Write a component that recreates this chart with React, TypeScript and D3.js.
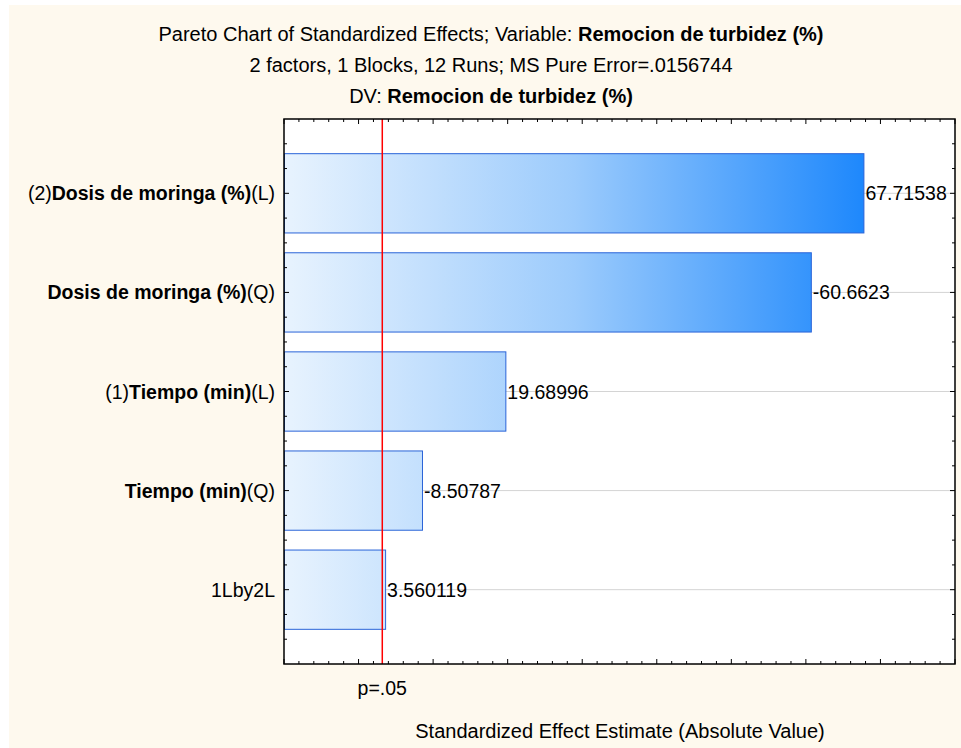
import React, { useRef, useEffect } from 'react';
import * as d3 from 'd3';

const prefixes = ['(2)', '', '(1)', '', '1Lby2L'];
const boldNames = ['Dosis de moringa (%)', 'Dosis de moringa (%)', 'Tiempo (min)', 'Tiempo (min)', ''];
const suffixes = ['(L)', '(Q)', '(L)', '(Q)', ''];
const effects = [67.71538, -60.6623, 19.68996, -8.50787, 3.560119];
const effectLabels = ['67.71538', '-60.6623', '19.68996', '-8.50787', '3.560119'];
const pCritical = 3.182446;

const titleLines = [
  { normal: 'Pareto Chart of Standardized Effects; Variable: ', bold: 'Remocion de turbidez (%)' },
  { normal: '2 factors, 1 Blocks, 12 Runs; MS Pure Error=.0156744', bold: '' },
  { normal: 'DV: ', bold: 'Remocion de turbidez (%)' },
];

const App: React.FC = () => {
  const svgRef = useRef<SVGSVGElement>(null);

  useEffect(() => {
    if (!svgRef.current) return;
    const svg = d3.select(svgRef.current);
    svg.selectAll('*').remove();

    const width = 961;
    const height = 748;
    const font = '"Liberation Sans", Arial, sans-serif';
    const fs = 19.5;
    const titleFs = 20;

    const left = 284, right = 955, top = 119, bottom = 664;
    const x = d3.scaleLinear().domain([-10, 80]).range([left, right]);
    const y = d3.scaleLinear().domain([0.25, 5.75]).range([top, bottom]);

    svg.attr('width', width).attr('height', height);

    const defs = svg.append('defs');
    const grad = defs.append('linearGradient')
      .attr('id', 'barGrad')
      .attr('gradientUnits', 'userSpaceOnUse')
      .attr('x1', left).attr('x2', x(67.71538))
      .attr('y1', 0).attr('y2', 0);
    grad.append('stop').attr('offset', '0%').attr('stop-color', '#e8f3fe');
    grad.append('stop').attr('offset', '50%').attr('stop-color', '#9ccbfc');
    grad.append('stop').attr('offset', '100%').attr('stop-color', '#1e88fc');

    svg.append('rect')
      .attr('x', 9).attr('y', 5)
      .attr('width', width - 9).attr('height', height - 5)
      .attr('fill', '#fef9ee');

    svg.append('rect')
      .attr('x', left).attr('y', top)
      .attr('width', right - left).attr('height', bottom - top)
      .attr('fill', '#ffffff');

    // title
    const title = svg.append('g')
      .attr('font-family', font)
      .attr('font-size', titleFs)
      .attr('fill', '#000');
    titleLines.forEach((line, i) => {
      const t = title.append('text')
        .attr('x', 491)
        .attr('y', 41 + i * 31)
        .attr('text-anchor', 'middle');
      t.append('tspan').text(line.normal);
      if (line.bold) t.append('tspan').attr('font-weight', 'bold').text(line.bold);
    });

    // gridlines
    svg.append('g')
      .selectAll('line')
      .data(effects)
      .enter().append('line')
      .attr('x1', left).attr('x2', right)
      .attr('y1', (d, i) => y(i + 1)).attr('y2', (d, i) => y(i + 1))
      .attr('stroke', '#d4d4d4')
      .attr('stroke-width', 1);

    // bars
    const barH = 0.8;
    svg.append('g')
      .selectAll('rect')
      .data(effects)
      .enter().append('rect')
      .attr('x', left + 0.5)
      .attr('y', (d, i) => y(i + 1 - barH / 2))
      .attr('width', d => x(Math.abs(d)) - left)
      .attr('height', y(1 + barH / 2) - y(1 - barH / 2))
      .attr('fill', 'url(#barGrad)')
      .attr('stroke', '#2a64d8')
      .attr('stroke-width', 1);

    // value labels
    svg.append('g')
      .selectAll('text')
      .data(effects)
      .enter().append('text')
      .attr('x', d => x(Math.abs(d)) + 2)
      .attr('y', (d, i) => y(i + 1))
      .attr('dy', '0.36em')
      .attr('font-family', font)
      .attr('font-size', fs)
      .text((d, i) => effectLabels[i]);

    // significance line
    svg.append('line')
      .attr('x1', x(pCritical)).attr('x2', x(pCritical))
      .attr('y1', top).attr('y2', bottom)
      .attr('stroke', '#ff0000')
      .attr('stroke-width', 1.5);

    // frame
    svg.append('rect')
      .attr('x', left).attr('y', top)
      .attr('width', right - left).attr('height', bottom - top)
      .attr('fill', 'none')
      .attr('stroke', '#000')
      .attr('stroke-width', 1.5);

    // ticks
    const ticks = svg.append('g').attr('stroke', '#000').attr('stroke-width', 1);
    d3.range(-10, 80.01, 2).forEach(v => {
      const len = v % 10 === 0 ? 5 : 3;
      ticks.append('line').attr('x1', x(v)).attr('x2', x(v)).attr('y1', bottom).attr('y2', bottom - len);
      ticks.append('line').attr('x1', x(v)).attr('x2', x(v)).attr('y1', top).attr('y2', top + len);
    });
    d3.range(0.5, 5.6, 0.25).forEach(v => {
      const len = Math.abs(v - Math.round(v)) < 1e-6 ? 5 : 3;
      ticks.append('line').attr('x1', left).attr('x2', left + len).attr('y1', y(v)).attr('y2', y(v));
      ticks.append('line').attr('x1', right).attr('x2', right - len).attr('y1', y(v)).attr('y2', y(v));
    });

    // category labels
    const labels = svg.append('g')
      .attr('font-family', font)
      .attr('font-size', fs);
    effects.forEach((d, i) => {
      const t = labels.append('text')
        .attr('x', 275)
        .attr('y', y(i + 1))
        .attr('dy', '0.36em')
        .attr('text-anchor', 'end');
      if (prefixes[i]) t.append('tspan').text(prefixes[i]);
      if (boldNames[i]) t.append('tspan').attr('font-weight', 'bold').text(boldNames[i]);
      if (suffixes[i]) t.append('tspan').text(suffixes[i]);
    });

    // p label and axis title
    svg.append('text')
      .attr('x', x(pCritical))
      .attr('y', 695)
      .attr('text-anchor', 'middle')
      .attr('font-family', font)
      .attr('font-size', fs)
      .text('p=.05');

    svg.append('text')
      .attr('x', 620)
      .attr('y', 738)
      .attr('text-anchor', 'middle')
      .attr('font-family', font)
      .attr('font-size', titleFs)
      .text('Standardized Effect Estimate (Absolute Value)');
  }, []);

  return (
    <svg ref={svgRef} style={{ position: 'absolute', left: 0, top: 0 }}></svg>
  );
};

export default App;
